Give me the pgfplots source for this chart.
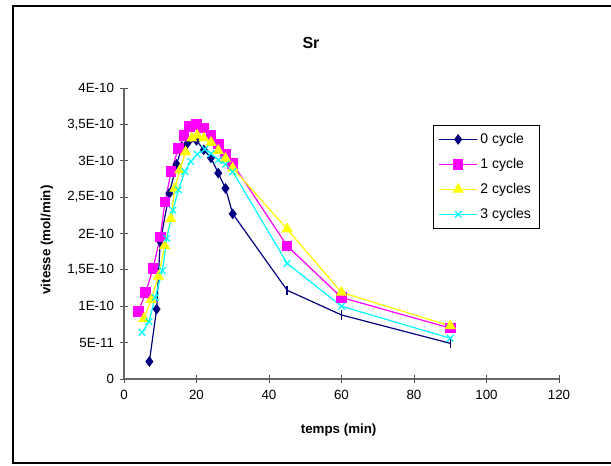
\documentclass[border=0pt]{standalone}
\usepackage{pgfplots}
\pgfplotsset{compat=1.18}
\usepackage{fontspec}
\setmainfont{Liberation Sans}
\definecolor{navy}{RGB}{0,0,128}
\definecolor{mag}{RGB}{255,0,255}
\definecolor{yel}{RGB}{255,255,0}
\definecolor{cya}{RGB}{0,255,255}
\begin{document}
\begin{tikzpicture}
\begin{axis}[
  name=ax,
  scale only axis,
  width=326.25pt, height=218.25pt,
  xmin=0, xmax=120, ymin=0, ymax=4e-10,
  axis x line*=bottom, axis y line*=left,
  axis line style={draw=black!60, line width=0.8pt, -},
  xtick={0,20,40,60,80,100,120},
  xticklabels={0,20,40,60,80,100,120},
  ytick={0,0.5e-10,1e-10,1.5e-10,2e-10,2.5e-10,3e-10,3.5e-10,4e-10},
  yticklabels={0,5E-11,1E-10,{1,5E-10},2E-10,{2,5E-10},3E-10,{3,5E-10},4E-10},
  scaled y ticks=false,
  tick align=center, major tick length=6pt,
  tick style={draw=black!70, line width=0.6pt},
  xticklabel style={font=\fontsize{10}{12}\selectfont, yshift=-2pt},
  yticklabel style={font=\fontsize{10}{12}\selectfont, xshift=-1pt},
  clip=false,
  legend style={at={(0.71,0.873)}, anchor=north west, draw=black, line width=0.6pt,
    font=\fontsize{10.5}{12}\selectfont, row sep=5.6pt, inner xsep=4pt, inner ysep=4pt,
    cells={anchor=west}},
  legend image code/.code={\draw[mark repeat=2,mark phase=2] plot coordinates {(0cm,0cm)(0.5cm,0cm)(1cm,0cm)};},
]
\addlegendimage{navy, line width=0.9pt, mark=diamond*, mark size=3.3pt, mark options={solid,fill=navy}}
\addlegendimage{mag, line width=0.9pt, mark=square*, mark size=3.5pt, mark options={solid,fill=mag}}
\addlegendimage{yel, line width=0.9pt, mark=triangle*, mark size=4pt, mark options={solid,fill=yel}}
\addlegendimage{cya, line width=0.9pt, mark=x, mark size=3.5pt, mark options={solid,line width=0.9pt}}
% 0 cycle
\addplot[forget plot, navy, line width=0.9pt, mark=diamond*, mark size=3.3pt, mark options={fill=navy}, mark indices={1,...,13}] coordinates {
(7,0.24e-10) (9,0.96e-10) (10,1.89e-10) (12.5,2.55e-10) (14.5,2.95e-10) (16,3.19e-10) (17.5,3.24e-10) (20,3.28e-10)
(22,3.15e-10) (24,3.04e-10) (26,2.83e-10) (28,2.62e-10) (30,2.27e-10) (45,1.22e-10) (60,0.88e-10) (90,0.49e-10)};
\addplot[forget plot, navy, only marks, mark=|, mark size=3.5pt, mark options={line width=1pt}] coordinates {
(45,1.22e-10) (60,0.88e-10) (90,0.49e-10)};
% 1 cycle
\addplot[forget plot, mag, line width=0.9pt, mark=square*, mark size=3.5pt, mark options={fill=mag}] coordinates {
(4,0.93e-10) (6,1.19e-10) (8,1.52e-10) (10,1.95e-10) (11.3,2.43e-10) (13,2.85e-10) (15,3.17e-10) (16.5,3.35e-10)
(18,3.47e-10) (20,3.50e-10) (22,3.45e-10) (24,3.35e-10) (26,3.23e-10) (28,3.09e-10) (30,2.96e-10)
(45,1.83e-10) (60,1.12e-10) (90,0.70e-10)};
% 2 cycles
\addplot[forget plot, yel, line width=0.9pt, mark=triangle*, mark size=4pt, mark options={fill=yel}] coordinates {
(5.5,0.83e-10) (7.5,1.09e-10) (9.5,1.41e-10) (11.2,1.83e-10) (12.9,2.20e-10) (14,2.62e-10) (15.4,2.87e-10) (17,3.12e-10)
(18.7,3.31e-10) (20.2,3.35e-10) (22,3.31e-10) (24,3.25e-10) (26,3.14e-10) (28,3.03e-10) (30,2.90e-10)
(45,2.06e-10) (60,1.19e-10) (90,0.73e-10)};
% 3 cycles
\addplot[forget plot, cya, line width=0.9pt, mark=x, mark size=3.5pt, mark options={line width=0.9pt}] coordinates {
(5,0.64e-10) (6.9,0.79e-10) (8.6,1.12e-10) (10.6,1.49e-10) (11.8,1.93e-10) (13.5,2.32e-10) (15,2.60e-10) (16.8,2.85e-10)
(18.4,2.99e-10) (20.2,3.09e-10) (22.3,3.16e-10) (24,3.10e-10) (26,3.01e-10) (28,2.95e-10) (30,2.85e-10)
(45,1.59e-10) (60,1.00e-10) (90,0.56e-10)};
\legend{0 cycle,1 cycle,2 cycles,3 cycles}
\end{axis}
\path[use as bounding box] ([shift={(-93pt,-65.25pt)}]ax.south west) rectangle ([shift={(365.25pt,284.25pt)}]ax.south west);
\draw[black, line width=0.8pt] ([shift={(-83.25pt,-63pt)}]ax.south west) rectangle ([shift={(380pt,279.75pt)}]ax.south west);
\node[font=\fontsize{12}{14}\selectfont\bfseries] at ([shift={(140.25pt,252pt)}]ax.south west) {Sr};
\node[font=\fontsize{10}{12}\selectfont\bfseries] at ([shift={(161pt,-38.25pt)}]ax.south west) {temps (min)};
\node[font=\fontsize{10}{12}\selectfont\bfseries, rotate=90] at ([shift={(-57.75pt,104.25pt)}]ax.south west) {vitesse (mol/min)};
\end{tikzpicture}
\end{document}
